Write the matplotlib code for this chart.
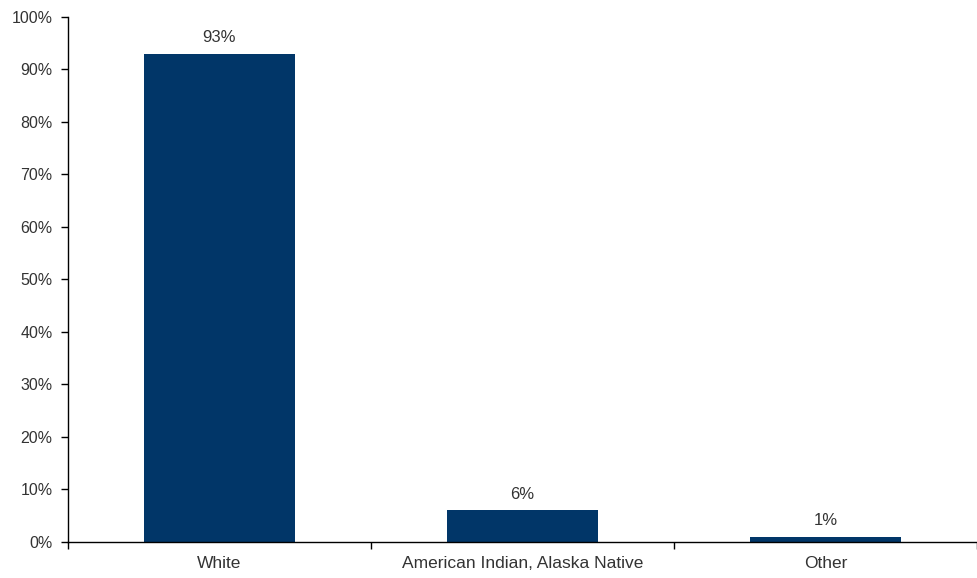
import matplotlib
matplotlib.use('Agg')
import matplotlib.pyplot as plt
import numpy as np

categories = ['White', 'American Indian, Alaska Native', 'Other']
shares = [93, 6, 1]  # percent
y_ticks = [0, 10, 20, 30, 40, 50, 60, 70, 80, 90, 100]

plt.rcParams['font.family'] = ['Liberation Sans', 'DejaVu Sans']

fig = plt.figure(figsize=(9.77, 5.78), dpi=100)
ax = fig.add_axes([0.0696, 0.0623, 0.9304, 0.9083])

x = np.arange(len(categories))
bars = ax.bar(x, shares, width=0.5, color='#013668')

for bar in bars:
    yval = bar.get_height()
    ax.annotate(f'{yval:g}%', (bar.get_x() + bar.get_width() / 2, yval),
                xytext=(0, 6), textcoords='offset points',
                ha='center', va='bottom', fontsize=12, color='#333333')

ax.set_xlim(-0.5, len(categories) - 0.5)
ax.set_ylim(0, 100)
ax.set_yticks(y_ticks)
ax.set_yticklabels([f'{v}%' for v in y_ticks])
ax.set_xticks(x)
ax.set_xticklabels(categories)
ax.set_xticks(np.arange(len(categories) + 1) - 0.5, minor=True)

ax.tick_params(axis='x', which='major', length=0, pad=10, labelsize=12.5, labelcolor='#333333')
ax.tick_params(axis='x', which='minor', length=5, width=1, direction='out')
ax.tick_params(axis='y', length=5, width=1, direction='out', pad=6, labelsize=11.5, labelcolor='#333333')

for side in ['top', 'right']:
    ax.spines[side].set_visible(False)
for side in ['left', 'bottom']:
    ax.spines[side].set_linewidth(1)

fig.savefig('out.png', dpi=100)
